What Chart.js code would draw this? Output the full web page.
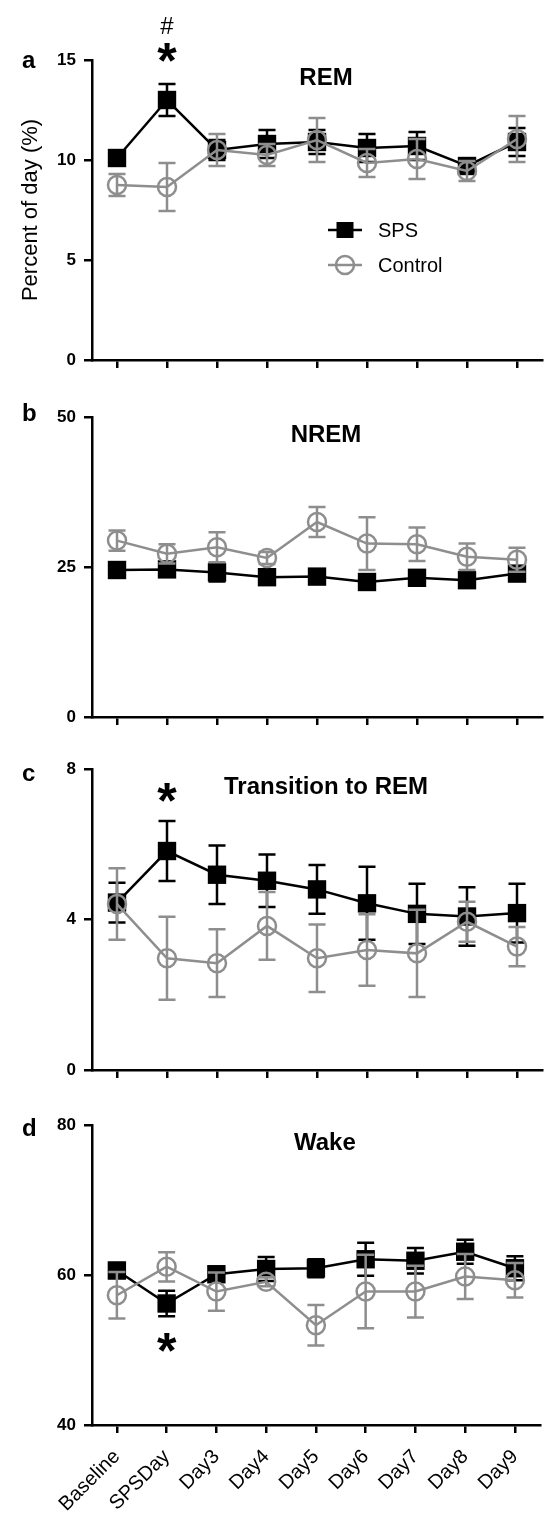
<!DOCTYPE html>
<html>
<head>
<meta charset="utf-8">
<script src="https://cdn.jsdelivr.net/npm/chart.js@4.4.0/dist/chart.umd.min.js"></script>
<style>
  html, body { margin: 0; padding: 0; background: #fff; }
  #wrap { position: relative; width: 544px; height: 1513px; overflow: hidden; }
  canvas { position: absolute; left: 0; }
</style>
</head>
<body>
<div id="wrap">
  <canvas id="rem" width="544" height="380" style="top:0px"></canvas>
  <canvas id="nrem" width="544" height="360" style="top:380px"></canvas>
  <canvas id="trans" width="544" height="360" style="top:740px"></canvas>
  <canvas id="wake" width="544" height="413" style="top:1100px"></canvas>
</div>
<script>
const days = ['Baseline', 'SPSDay', 'Day3', 'Day4', 'Day5', 'Day6', 'Day7', 'Day8', 'Day9'];

// a - REM
const remSps = [10.1, 13.0, 10.5, 10.8, 10.9, 10.6, 10.7, 9.7, 10.9];
const remSpsErr = [0.3, 0.8, 0.5, 0.7, 0.6, 0.7, 0.7, 0.3, 0.7];
const remCtl = [8.75, 8.65, 10.5, 10.25, 11.0, 9.85, 10.05, 9.45, 11.05];
const remCtlErr = [0.55, 1.2, 0.8, 0.55, 1.1, 0.7, 1.0, 0.5, 1.15];

// b - NREM
const nremSps = [24.5, 24.6, 24.1, 23.3, 23.4, 22.5, 23.2, 22.8, 23.9];
const nremSpsErr = [0.9, 1.2, 1.5, 0.8, 0.7, 0.8, 0.8, 1.0, 1.2];
const nremCtl = [29.4, 27.2, 28.3, 26.5, 32.5, 28.9, 28.8, 26.7, 26.2];
const nremCtlErr = [1.7, 1.6, 2.5, 1.0, 2.5, 4.4, 2.8, 2.2, 2.0];

// c - Transition to REM
const transSps = [4.45, 5.82, 5.19, 5.03, 4.8, 4.43, 4.15, 4.08, 4.17];
const transSpsErr = [0.53, 0.8, 0.78, 0.7, 0.65, 0.97, 0.8, 0.78, 0.78];
const transCtl = [4.41, 2.97, 2.84, 3.83, 2.97, 3.19, 3.1, 3.94, 3.28];
const transCtlErr = [0.95, 1.1, 0.9, 0.9, 0.9, 0.95, 1.16, 0.53, 0.52];

// d - Wake
const wakeSps = [60.6, 56.2, 60.1, 60.8, 60.9, 62.1, 61.9, 63.1, 60.9];
const wakeSpsErr = [1.0, 1.7, 1.0, 1.6, 1.2, 2.2, 1.7, 1.6, 1.6];
const wakeCtl = [57.3, 61.1, 57.8, 59.1, 53.3, 57.8, 57.8, 59.8, 59.3];
const wakeCtlErr = [3.1, 1.95, 2.55, 0.6, 2.7, 4.9, 3.45, 3.0, 2.3];

const FONT = 'Arial, "Liberation Sans", Helvetica, sans-serif';
const GREY = '#8e8e8e';

// draw text centred on its ink box
function inkText(ctx, text, x, cy, font, align) {
	ctx.font = font;
	ctx.fillStyle = '#000';
	ctx.textAlign = align || 'center';
	ctx.textBaseline = 'alphabetic';
	const m = ctx.measureText(text);
	ctx.fillText(text, x, cy + (m.actualBoundingBoxAscent - m.actualBoundingBoxDescent) / 2);
}

const errorBars = {
	id: 'errorBars',
	beforeDatasetDraw(chart, args) {
		const ds = chart.data.datasets[args.index];
		const y = chart.scales.y;
		const ctx = chart.ctx;
		ctx.save();
		ctx.strokeStyle = ds.borderColor;
		ctx.lineWidth = 2.5;
		args.meta.data.forEach((pt, i) => {
			const top = y.getPixelForValue(ds.data[i] + ds.err[i]);
			const bot = y.getPixelForValue(ds.data[i] - ds.err[i]);
			ctx.beginPath();
			ctx.moveTo(pt.x, top); ctx.lineTo(pt.x, bot);
			ctx.moveTo(pt.x - 8.5, top); ctx.lineTo(pt.x + 8.5, top);
			ctx.moveTo(pt.x - 8.5, bot); ctx.lineTo(pt.x + 8.5, bot);
			ctx.stroke();
		});
		ctx.restore();
	}
};

const decor = {
	id: 'decor',
	afterDraw(chart, args, o) {
		const ctx = chart.ctx;
		const area = chart.chartArea;
		ctx.save();
		inkText(ctx, o.title, (area.left + area.right) / 2 + 9, area.top + 16, 'bold 24px ' + FONT);
		inkText(ctx, o.letter, 22, area.top + o.letterDy, 'bold 24px ' + FONT, 'left');
		const sx = chart.scales.x.getPixelForValue(1);
		o.marks.forEach(m => inkText(ctx, m.text, sx, m.cy - chart.canvas.offsetTop, m.font));
		if (o.legend) {
			const lx = area.left + 253;
			const rows = [
				{ label: 'SPS', color: '#000', y: area.top + 170, square: true },
				{ label: 'Control', color: GREY, y: area.top + 205, square: false },
			];
			rows.forEach(r => {
				ctx.strokeStyle = r.color;
				ctx.lineWidth = 2.5;
				ctx.beginPath();
				ctx.moveTo(lx - 17, r.y); ctx.lineTo(lx + 17, r.y);
				ctx.stroke();
				if (r.square) {
					ctx.fillStyle = '#000';
					ctx.fillRect(lx - 8.5, r.y - 8, 17, 16);
				} else {
					ctx.beginPath();
					ctx.arc(lx, r.y, 9, 0, Math.PI * 2);
					ctx.stroke();
				}
				ctx.fillStyle = '#000';
				ctx.font = '20px ' + FONT;
				ctx.textAlign = 'left';
				ctx.textBaseline = 'middle';
				ctx.fillText(r.label, lx + 33, r.y + 1);
			});
			ctx.save();
			ctx.translate(31, (area.top + area.bottom) / 2);
			ctx.rotate(-Math.PI / 2);
			inkText(ctx, 'Percent of day (%)', 0, 0, '22px ' + FONT);
			ctx.restore();
		}
		ctx.restore();
	}
};

function makePanel(id, p) {
	return new Chart(document.getElementById(id), {
		type: 'line',
		data: {
			labels: days,
			datasets: [
				{
					label: 'SPS',
					data: p.sps,
					err: p.spsErr,
					order: 1,
					borderColor: '#000',
					backgroundColor: '#000',
					borderWidth: 2.5,
					pointStyle: 'rect',
					pointRadius: 13,
					pointBorderWidth: 0,
					clip: false,
				},
				{
					label: 'Control',
					data: p.ctl,
					err: p.ctlErr,
					order: 0,
					borderColor: GREY,
					backgroundColor: 'rgba(0,0,0,0)',
					borderWidth: 2.5,
					pointStyle: 'circle',
					pointRadius: 9,
					pointBorderWidth: 2.5,
					clip: false,
				},
			]
		},
		options: {
			responsive: false,
			animation: false,
			events: [],
			layout: { autoPadding: false, padding: { top: p.padTop, bottom: p.padBottom, left: 0, right: 2 } },
			plugins: {
				legend: { display: false },
				title: { display: false },
				tooltip: { enabled: false },
				decor: p.decor,
			},
			scales: {
				x: {
					offset: true,
					afterFit: s => { s.height = p.xHeight; },
					border: { display: true, color: '#000', width: 2.5 },
					grid: { display: true, drawOnChartArea: false, drawTicks: true, tickLength: 8, color: '#000', lineWidth: 2.5, offset: false },
					ticks: {
						display: p.showLabels,
						autoSkip: false,
						minRotation: 45,
						maxRotation: 45,
						padding: 12,
						color: '#000',
						font: { family: FONT, size: 20 },
					}
				},
				y: {
					min: p.min,
					max: p.max,
					afterFit: s => { s.width = 92; },
					border: { display: true, color: '#000', width: 2.5 },
					grid: { display: true, drawOnChartArea: false, drawTicks: true, tickLength: 8, color: '#000', lineWidth: 2.5 },
					ticks: {
						stepSize: p.step,
						padding: 8,
						color: '#000',
						font: { family: FONT, size: 17, weight: 'bold' },
					}
				}
			}
		},
		plugins: [errorBars, decor]
	});
}

makePanel('rem', {
	sps: remSps, spsErr: remSpsErr, ctl: remCtl, ctlErr: remCtlErr,
	min: 0, max: 15, step: 5,
	padTop: 60, padBottom: 10, xHeight: 10, showLabels: false,
	decor: {
		title: 'REM', letter: 'a', letterDy: 1, legend: true,
		marks: [
			{ text: '#', cy: 25, font: '24px ' + FONT },
			{ text: '*', cy: 52, font: 'bold 50px ' + FONT },
		]
	}
});

makePanel('nrem', {
	sps: nremSps, spsErr: nremSpsErr, ctl: nremCtl, ctlErr: nremCtlErr,
	min: 0, max: 50, step: 25,
	padTop: 37, padBottom: 13, xHeight: 10, showLabels: false,
	decor: { title: 'NREM', letter: 'b', letterDy: -5, legend: false, marks: [] }
});

makePanel('trans', {
	sps: transSps, spsErr: transSpsErr, ctl: transCtl, ctlErr: transCtlErr,
	min: 0, max: 8, step: 4,
	padTop: 29, padBottom: 20, xHeight: 10, showLabels: false,
	decor: {
		title: 'Transition to REM', letter: 'c', letterDy: 5, legend: false,
		marks: [{ text: '*', cy: 792, font: 'bold 50px ' + FONT }]
	}
});

makePanel('wake', {
	sps: wakeSps, spsErr: wakeSpsErr, ctl: wakeCtl, ctlErr: wakeCtlErr,
	min: 40, max: 80, step: 20,
	padTop: 25, padBottom: 0, xHeight: 88, showLabels: true,
	decor: {
		title: 'Wake', letter: 'd', letterDy: 2, legend: false,
		marks: [{ text: '*', cy: 1342, font: 'bold 50px ' + FONT }]
	}
});
</script>
</body>
</html>
